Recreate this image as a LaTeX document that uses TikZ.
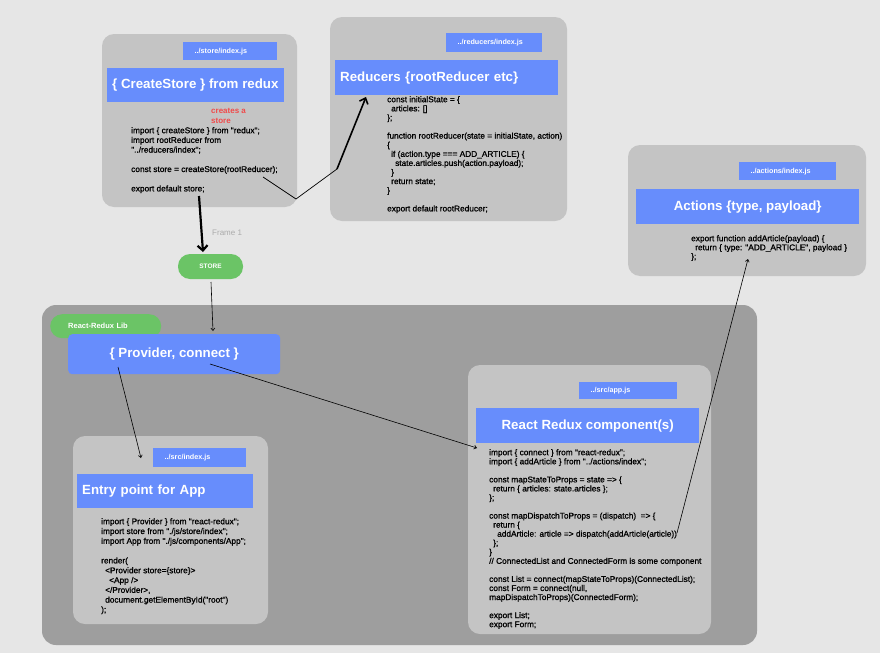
\documentclass[tikz,border=0pt]{standalone}
\usepackage{fontspec}
\setmainfont{Liberation Sans}
\newfontfamily\codefont[FakeBold=1]{Liberation Sans}
\usetikzlibrary{arrows.meta, positioning}

\definecolor{pagegray}{HTML}{E6E6E6}
\definecolor{boxgray}{HTML}{C4C4C4}
\definecolor{panelgray}{HTML}{9E9E9E}
\definecolor{reduxblue}{HTML}{678DFC}
\definecolor{pillgreen}{HTML}{6BC466}
\definecolor{notered}{HTML}{F04A4A}
\definecolor{framegray}{HTML}{ABABAB}

\tikzset{
	filebox/.style={fill=boxgray, rounded corners=12pt},
	pathtag/.style={anchor=north west, fill=reduxblue, text=white, inner xsep=11.5pt, inner ysep=0pt, align=left, font=\fontsize{7.2}{8}\selectfont\bfseries},
	filetitle/.style={anchor=north west, fill=reduxblue, text=white, inner xsep=5pt, inner ysep=0pt, font=\fontsize{13.3}{16}\selectfont\bfseries},
	codetext/.style={anchor=north west, inner sep=0pt, align=left, font=\codefont\fontsize{8.3}{#1}\selectfont},
	pill/.style={fill=pillgreen, text=white, inner sep=0pt, rounded corners=12pt, font=\fontsize{#1}{9}\selectfont\bfseries},
	fatlink/.style={line width=2.2pt, -{Straight Barb[length=5pt,width=10pt]}},
	thinlink/.style={line width=0.6pt, -{Straight Barb[length=2.5pt,width=4pt]}}
}

\begin{document}
\begin{tikzpicture}[x=1pt,y=-1pt]
	\useasboundingbox[fill=pagegray] (0,0) rectangle (880,653);

	% store file
	\fill[filebox] (102,34) rectangle (297,207);
	\node[pathtag, text width=71pt, minimum height=18pt] (storetag) at (183,42) {../store/index.js};
	\node[filetitle, minimum width=176pt, minimum height=34pt] (storetitle) at (107,68) {\{ CreateStore \} from redux};
	\node[anchor=north west, inner sep=0pt, align=left, text=notered, font=\fontsize{8}{10}\selectfont\bfseries] (storenote) at (211,108) {creates a\\store};
	\node[codetext=9.7pt] (storecode) at (131,127) {import \{ createStore \} from "redux";\\
		import rootReducer from\\
		"../reducers/index";\\[\baselineskip]
		const store = createStore(rootReducer);\\[\baselineskip]
		export default store;};

	% reducers file
	\fill[filebox] (330,17) rectangle (567,221);
	\node[pathtag, text width=73pt, minimum height=19pt] (reducertag) at (446,33) {../reducers/index.js};
	\node[filetitle, text width=213pt, align=left, minimum height=35pt] (reducertitle) at (335,60) {Reducers \{rootReducer etc\}};
	\node[codetext=9.1pt] (reducercode) at (387,96) {const initialState = \{\\
		\hspace*{4pt}articles: []\\
		\};\\[\baselineskip]
		function rootReducer(state = initialState, action)\\
		\{\\
		\hspace*{4pt}if (action.type === ADD\_ARTICLE) \{\\
		\hspace*{8pt}state.articles.push(action.payload);\\
		\hspace*{4pt}\}\\
		\hspace*{4pt}return state;\\
		\}\\[\baselineskip]
		export default rootReducer;};

	% actions file
	\fill[filebox] (628,145) rectangle (866,276);
	\node[pathtag, text width=74pt, minimum height=18pt] (actiontag) at (739,162) {../actions/index.js};
	\node[filetitle, minimum width=223pt, minimum height=35pt] (actiontitle) at (636,189) {Actions \{type, payload\}};
	\node[codetext=9pt] (actioncode) at (691,235) {export function addArticle(payload) \{\\
		\hspace*{4pt}return \{ type: "ADD\_ARTICLE", payload \}\\
		\};};

	\node[anchor=west, inner sep=0pt, text=framegray, font=\fontsize{8}{9}\selectfont] (framelabel) at (212,233) {Frame 1};
	\node[pill=6.5, minimum width=65pt, minimum height=25pt] (storepill) at (210.5,266.5) {STORE};

	% react-redux panel
	\fill[panelgray, rounded corners=14pt] (42,305) rectangle (757,645);
	\node[pill=7.5, anchor=north west, inner xsep=18pt, text width=75pt, align=left, minimum height=24pt] (libpill) at (50,314) {React-Redux Lib};
	\node[filetitle, rounded corners=4pt, minimum width=212pt, minimum height=40pt] (provider) at (68,334) {\{ Provider, connect \}};

	% entry file
	\fill[filebox] (73,436) rectangle (268,624);
	\node[pathtag, text width=70pt, minimum height=19pt] (entrytag) at (153,448) {../src/index.js};
	\node[filetitle, text width=166pt, align=left, minimum height=34pt] (entrytitle) at (77,474) {Entry point for App};
	\node[codetext=9.8pt] (entrycode) at (101,518) {import \{ Provider \} from "react-redux";\\
		import store from "./js/store/index";\\
		import App from "./js/components/App";\\[\baselineskip]
		render(\\
		\hspace*{4pt}<Provider store=\{store\}>\\
		\hspace*{8pt}<App />\\
		\hspace*{4pt}</Provider>,\\
		\hspace*{4pt}document.getElementById("root")\\
		);};

	% component file
	\fill[filebox] (468,365) rectangle (711,634);
	\node[pathtag, text width=75pt, minimum height=17pt] (comptag) at (579,382) {../src/app.js};
	\node[filetitle, minimum width=223pt, minimum height=35pt] (comptitle) at (476,408) {React Redux component(s)};
	\node[codetext=9.05pt] (compcode) at (489,449) {import \{ connect \} from "react-redux";\\
		import \{ addArticle \} from "../actions/index";\\[\baselineskip]
		const mapStateToProps = state => \{\\
		\hspace*{4pt}return \{ articles: state.articles \};\\
		\};\\[\baselineskip]
		const mapDispatchToProps = (dispatch)\ \ => \{\\
		\hspace*{4pt}return \{\\
		\hspace*{8pt}addArticle: article => dispatch(addArticle(article))\\
		\hspace*{4pt}\};\\
		\}\\
		// ConnectedList and ConnectedForm is some component\\[\baselineskip]
		const List = connect(mapStateToProps)(ConnectedList);\\
		const Form = connect(null,\\
		mapDispatchToProps)(ConnectedForm);\\[\baselineskip]
		export List;\\
		export Form;};

	% links
	\coordinate (storeout) at (199,196);
	\coordinate (storein) at (203,252);
	\coordinate (reducerout) at (263,177);
	\coordinate (reducerbend) at (296,199);
	\coordinate (reducerlift) at (337,169);
	\coordinate (reducerin) at (366,97);
	\coordinate (pillout) at (211,282);
	\coordinate (providerin) at (213,331);
	\coordinate (providerleft) at (118,367);
	\coordinate (entryin) at (141,458);
	\coordinate (providerright) at (210,364);
	\coordinate (compin) at (477,448);
	\coordinate (dispatchout) at (677,533);
	\coordinate (actionin) at (748,259);

	\draw[fatlink] (storeout) -- (storein);
	\draw[line width=0.7pt] (reducerout) -- (reducerbend) -- (reducerlift);
	\draw[line width=1.6pt, -{Straight Barb[length=5pt,width=9pt]}] (reducerlift) -- (reducerin);
	\draw[thinlink] (pillout) -- (providerin);
	\draw[thinlink] (providerleft) -- (entryin);
	\draw[thinlink] (providerright) -- (compin);
	\draw[thinlink] (dispatchout) -- (actionin);
\end{tikzpicture}
\end{document}
